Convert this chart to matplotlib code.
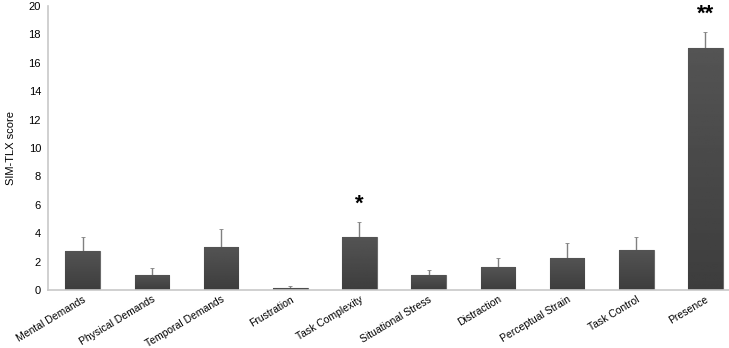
import numpy as np
import matplotlib
matplotlib.use('Agg')
import matplotlib.pyplot as plt

plt.rcParams['font.family'] = ['Liberation Sans', 'DejaVu Sans']

labels = ['Mental Demands', 'Physical Demands', 'Temporal Demands', 'Frustration',
          'Task Complexity', 'Situational Stress', 'Distraction', 'Perceptual Strain',
          'Task Control', 'Presence']
scores = [2.75, 1.06, 3.03, 0.12, 3.73, 1.08, 1.6, 2.27, 2.82, 17.06]
errors = [1.0, 0.5, 1.27, 0.14, 1.08, 0.35, 0.63, 1.01, 0.91, 1.14]
stars = {4: '*', 9: '**'}

fig = plt.figure(figsize=(7.29, 3.48), dpi=100)
ax = fig.add_axes([48/729, 58/348, 692/729, 284/348])

index = np.arange(len(labels))
bars = ax.bar(index, scores, 0.5, color='#474747', edgecolor='#6a6a6a', linewidth=0.8,
              zorder=2)
ax.errorbar(index, scores, yerr=[np.zeros(len(errors)), errors], fmt='none',
            ecolor='#808080', elinewidth=1.0, capsize=1.5, capthick=0.6, zorder=1)

# gradient shading on the bars
grad = np.linspace(0.33, 0.24, 100).reshape(-1, 1)
for rect in bars:
    x0, w, h = rect.get_x(), rect.get_width(), rect.get_height()
    im = ax.imshow(grad, cmap='gray', vmin=0, vmax=1, aspect='auto',
                   extent=[x0, x0 + w, 0, h], origin='upper', zorder=2.5)
    im.set_clip_path(rect)

for i, s in stars.items():
    ax.text(i, scores[i] + errors[i] + 0.5, s, ha='center', va='bottom', fontsize=16,
            fontweight='bold')

ax.set_xlim(-0.5, len(labels) - 0.5)
ax.set_ylim(0, 20)
ax.set_yticks(np.arange(0, 21, 2))
ax.set_xticks(index)
ax.set_xticklabels(labels, rotation=31, ha='right', rotation_mode='anchor', fontsize=7.5)
ax.tick_params(axis='y', labelsize=8, length=0, pad=5)
ax.tick_params(axis='x', length=0, pad=3)
ax.set_ylabel('SIM-TLX score', fontsize=8, labelpad=9)

for side in ['top', 'right']:
    ax.spines[side].set_visible(False)
for side in ['left', 'bottom']:
    ax.spines[side].set_color('#c8c8c8')
    ax.spines[side].set_linewidth(1.2)

fig.savefig('out.png', dpi=100)
